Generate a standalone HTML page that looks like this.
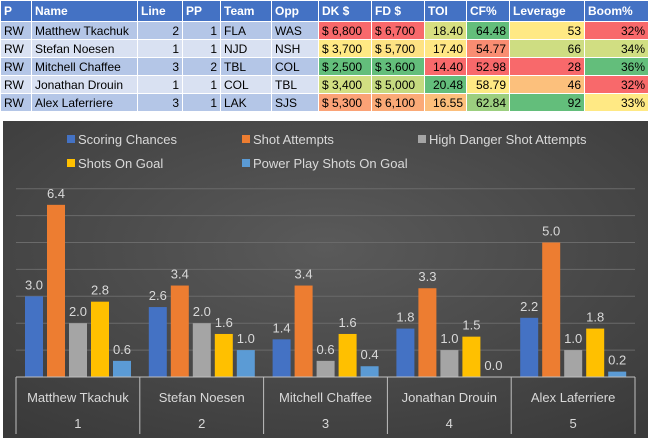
<!DOCTYPE html>
<html><head><meta charset="utf-8"><style>
body{margin:0;width:648px;height:441px;background:#fff;font-family:"Liberation Sans",sans-serif;overflow:hidden;position:relative}
table{position:absolute;left:0;top:0;border-collapse:collapse;table-layout:fixed;width:648px;font-size:12px}
td,th{border:1px solid #fff;padding:0 3px;height:17px;white-space:nowrap;overflow:hidden}
th{background:#4472c4;color:#fff;text-align:left;height:20px;font-weight:bold}
tr.a td{background:#b4c6e7}tr.b td{background:#d9e1f2}
td.n{text-align:right}
#chart{position:absolute;left:3px;top:121px}
</style></head><body>
<table>
<colgroup><col style="width:31px"><col style="width:106px"><col style="width:45px"><col style="width:38px"><col style="width:51px"><col style="width:47px"><col style="width:53px"><col style="width:53px"><col style="width:42px"><col style="width:43px"><col style="width:75px"><col style="width:64px"></colgroup>
<tr><th>P</th><th>Name</th><th>Line</th><th>PP</th><th>Team</th><th>Opp</th><th>DK $</th><th>FD $</th><th>TOI</th><th>CF%</th><th>Leverage</th><th>Boom%</th></tr>
<tr class="a"><td>RW</td><td>Matthew Tkachuk</td><td class="n">2</td><td class="n">1</td><td>FLA</td><td>WAS</td><td style="background:#f8696b">$ 6,800</td><td style="background:#f8696b">$ 6,700</td><td class="n" style="background:#d7df81">18.40</td><td class="n" style="background:#63be7b">64.48</td><td class="n" style="background:#ffe984">53</td><td class="n" style="background:#f8696b">32%</td></tr>
<tr class="b"><td>RW</td><td>Stefan Noesen</td><td class="n">1</td><td class="n">1</td><td>NJD</td><td>NSH</td><td style="background:#ffe984">$ 3,700</td><td style="background:#fee283">$ 5,700</td><td class="n" style="background:#ffe784">17.40</td><td class="n" style="background:#f98d72">54.77</td><td class="n" style="background:#cedd82">66</td><td class="n" style="background:#d1de82">34%</td></tr>
<tr class="a"><td>RW</td><td>Mitchell Chaffee</td><td class="n">3</td><td class="n">2</td><td>TBL</td><td>COL</td><td style="background:#63be7b">$ 2,500</td><td style="background:#63be7b">$ 3,600</td><td class="n" style="background:#f8696b">14.40</td><td class="n" style="background:#f8696b">52.98</td><td class="n" style="background:#f8696b">28</td><td class="n" style="background:#63be7b">36%</td></tr>
<tr class="b"><td>RW</td><td>Jonathan Drouin</td><td class="n">1</td><td class="n">1</td><td>COL</td><td>TBL</td><td style="background:#d2df82">$ 3,400</td><td style="background:#c5da80">$ 5,000</td><td class="n" style="background:#63be7b">20.48</td><td class="n" style="background:#ffea84">58.79</td><td class="n" style="background:#fcc07c">46</td><td class="n" style="background:#f8696b">32%</td></tr>
<tr class="a"><td>RW</td><td>Alex Laferriere</td><td class="n">3</td><td class="n">1</td><td>LAK</td><td>SJS</td><td style="background:#fba276">$ 5,300</td><td style="background:#fbaa77">$ 6,100</td><td class="n" style="background:#fcbf7b">16.55</td><td class="n" style="background:#9ccf7f">62.84</td><td class="n" style="background:#63be7b">92</td><td class="n" style="background:#ffe984">33%</td></tr>
</table>
<svg id="chart" width="645" height="317">
<defs><radialGradient id="bg" cx="50%" cy="40%" r="75%"><stop offset="0" stop-color="#5a5a5a"/><stop offset="1" stop-color="#3a3a3a"/></radialGradient></defs>
<rect width="645" height="317" fill="url(#bg)"/>
<g id="grid"></g><g id="bars"></g><g id="axis"></g><g id="legend"></g>
</svg>
<script>
const categories=["Matthew Tkachuk","Stefan Noesen","Mitchell Chaffee","Jonathan Drouin","Alex Laferriere"];
const catNums=["1","2","3","4","5"];
const seriesNames=["Scoring Chances","Shot Attempts","High Danger Shot Attempts","Shots On Goal","Power Play Shots On Goal"];
const scoring=[3.0,2.6,1.4,1.8,2.2];
const attempts=[6.4,3.4,3.4,3.3,5.0];
const highDanger=[2.0,2.0,0.6,1.0,1.0];
const sog=[2.8,1.6,1.6,1.5,1.8];
const ppsog=[0.6,1.0,0.4,0.0,0.2];
const yTicks=[0,1,2,3,4,5,6,7];
const series=[scoring,attempts,highDanger,sog,ppsog];
const colors=["#4472c4","#ed7d31","#a5a5a5","#ffc000","#5b9bd5"];
const NS="http://www.w3.org/2000/svg";
const L=13,R=632,base=256,unit=26.9;
const gw=(R-L)/categories.length;
const y=v=>base-v*unit;
function mk(t,a,p){const e=document.createElementNS(NS,t);for(const k in a)e.setAttribute(k,a[k]);(p||document.getElementById('bars')).appendChild(e);return e;}
const grid=document.getElementById('grid');
yTicks.forEach(t=>{if(t>0){const l=mk('line',{x1:L,x2:R,y1:y(t),y2:y(t),stroke:'#6a6a6a','stroke-width':1},grid);

}});
series.forEach((s,si)=>{s.forEach((v,ci)=>{
 const x=L+ci*gw+9+si*22;
 const r=mk('rect',{x:x,y:y(v),width:18,height:v*unit,fill:colors[si]});
 
 
 const t=mk('text',{x:x+9,y:y(v)-7,'text-anchor':'middle','font-size':13,fill:'#d9d9d9'});
 t.textContent=v.toFixed(1);
 
 
});});
const ax=document.getElementById('axis');
const bl=mk('line',{x1:L,x2:R,y1:base,y2:base,stroke:'#bfbfbf'},ax);


for(let i=0;i<=categories.length;i++){const x=L+i*gw;
 const l=mk('line',{x1:x,x2:x,y1:base,y2:313,stroke:'#bfbfbf'},ax);
 
 }
categories.forEach((c,i)=>{const cx=L+i*gw+gw/2;
 const t=mk('text',{x:cx,y:281,'text-anchor':'middle','font-size':13,fill:'#d9d9d9'},ax);t.textContent=c;
 
 
 const n=mk('text',{x:cx,y:307,'text-anchor':'middle','font-size':13,fill:'#d9d9d9'},ax);n.textContent=catNums[i];
 
 });
const lg=document.getElementById('legend');
const lpos=[[64,19],[239,19],[415,19],[64,43],[239,43]];
seriesNames.forEach((n,i)=>{const [x,yy]=lpos[i];
 const g=mk('g',{},lg);
 
 
 mk('rect',{x:x,y:yy-5,width:8,height:8,fill:colors[i]},g);
 const t=mk('text',{x:x+11,y:yy+4,'font-size':13,fill:'#d9d9d9'},g);t.textContent=n;});
</script>
</body></html>
